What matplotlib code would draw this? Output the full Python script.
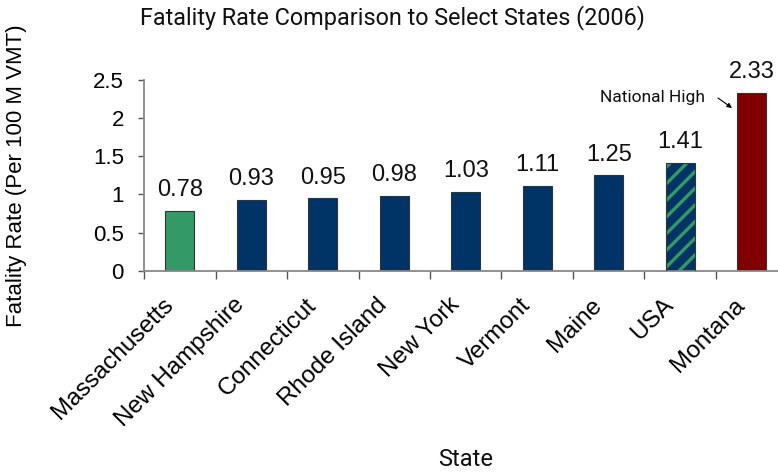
import matplotlib
matplotlib.use("Agg")
import matplotlib.pyplot as plt
import matplotlib.transforms as mtransforms
import numpy as np

# Data
states = ["Massachusetts", "New Hampshire", "Connecticut", "Rhode Island",
          "New York", "Vermont", "Maine", "USA", "Montana"]
rates = [0.78, 0.93, 0.95, 0.98, 1.03, 1.11, 1.25, 1.41, 2.33]
value_labels = ["0.78", "0.93", "0.95", "0.98", "1.03", "1.11", "1.25", "1.41", "2.33"]
yticks = [0, 0.5, 1, 1.5, 2, 2.5]
ytick_labels = ["0", "0.5", "1", "1.5", "2", "2.5"]

GREEN = "#339966"
NAVY = "#003366"
MAROON = "#800000"
EDGE = "#333333"

bar_colors = [GREEN] + [NAVY] * 7 + [MAROON]
bar_hatches = [None] * 7 + ["//", None]

plt.rcParams["font.family"] = ["Liberation Sans", "DejaVu Sans"]
plt.rcParams["hatch.linewidth"] = 2.4

fig = plt.figure(figsize=(7.78, 4.72), dpi=100)
ax = fig.add_axes([0.1851, 0.4265, 0.8271, 0.404])

x = np.arange(len(states))
bar_w = 0.405
bars = ax.bar(x, rates, width=bar_w, color=bar_colors,
              edgecolor=EDGE, linewidth=0.8, zorder=2)
for i, (b, h) in enumerate(zip(bars, bar_hatches)):
    if h:
        # hatch takes the patch edge colour; outline drawn separately on top
        b.set_hatch(h)
        b.set_edgecolor(GREEN)
        b.set_linewidth(0)
        ax.bar([x[i]], [rates[i]], width=bar_w, fill=False,
               edgecolor=EDGE, linewidth=0.8, zorder=3)

for xi, val, txt in zip(x, rates, value_labels):
    ax.annotate(txt, (xi, val), xytext=(0, 7), textcoords="offset points",
                ha="center", va="bottom", fontsize=17, color="#111111")

ax.set_xlim(-0.5, len(states) - 0.5)
ax.set_ylim(0, 2.5)
ax.set_yticks(yticks)
ax.set_yticklabels(ytick_labels, fontsize=16)

# category names, rotated, ending just below-left of each bar
ax.set_xticks(x)
ax.set_xticklabels([])
ax.set_xticks(np.arange(-0.5, len(states), 1.0), minor=True)
ax.tick_params(axis="x", which="major", length=0)
ax.tick_params(axis="x", which="minor", length=5.5, width=1, color="#555555")
ax.tick_params(axis="y", length=4.5, width=1, color="#555555", pad=10)

label_tf = ax.get_xaxis_transform() + mtransforms.ScaledTranslation(
    -0.10, -0.31, fig.dpi_scale_trans)
for xi, name in zip(x, states):
    ax.text(xi, 0, name, transform=label_tf, rotation=45, ha="right",
            va="center", rotation_mode="anchor", fontsize=17.5, clip_on=False)

for side in ("top", "right"):
    ax.spines[side].set_visible(False)
for side in ("left", "bottom"):
    ax.spines[side].set_color("#888888")
    ax.spines[side].set_linewidth(1.3)

ax.set_ylabel("Fatality Rate (Per 100 M VMT)", fontsize=16)
ax.yaxis.set_label_coords(-0.182, 0.5)

fig.text(0.504, 0.962, "Fatality Rate Comparison to Select States (2006)",
         ha="center", va="center", fontsize=16.8, family=["Roboto", "DejaVu Sans"],
         color="#111111")
fig.text(0.598, 0.026, "State", ha="center", va="center", fontsize=17,
         family=["Roboto", "DejaVu Sans"], color="#111111")

ax.text(6.605, 2.277, "National High", ha="center", va="center", fontsize=12.5,
        family=["Roboto", "DejaVu Sans"], color="#111111")
ax.annotate("", xy=(7.724, 2.133), xytext=(7.528, 2.264),
            arrowprops=dict(arrowstyle="-|>", color="black", lw=0.8,
                            mutation_scale=7, shrinkA=0, shrinkB=0))

fig.savefig("out.png", dpi=100)
